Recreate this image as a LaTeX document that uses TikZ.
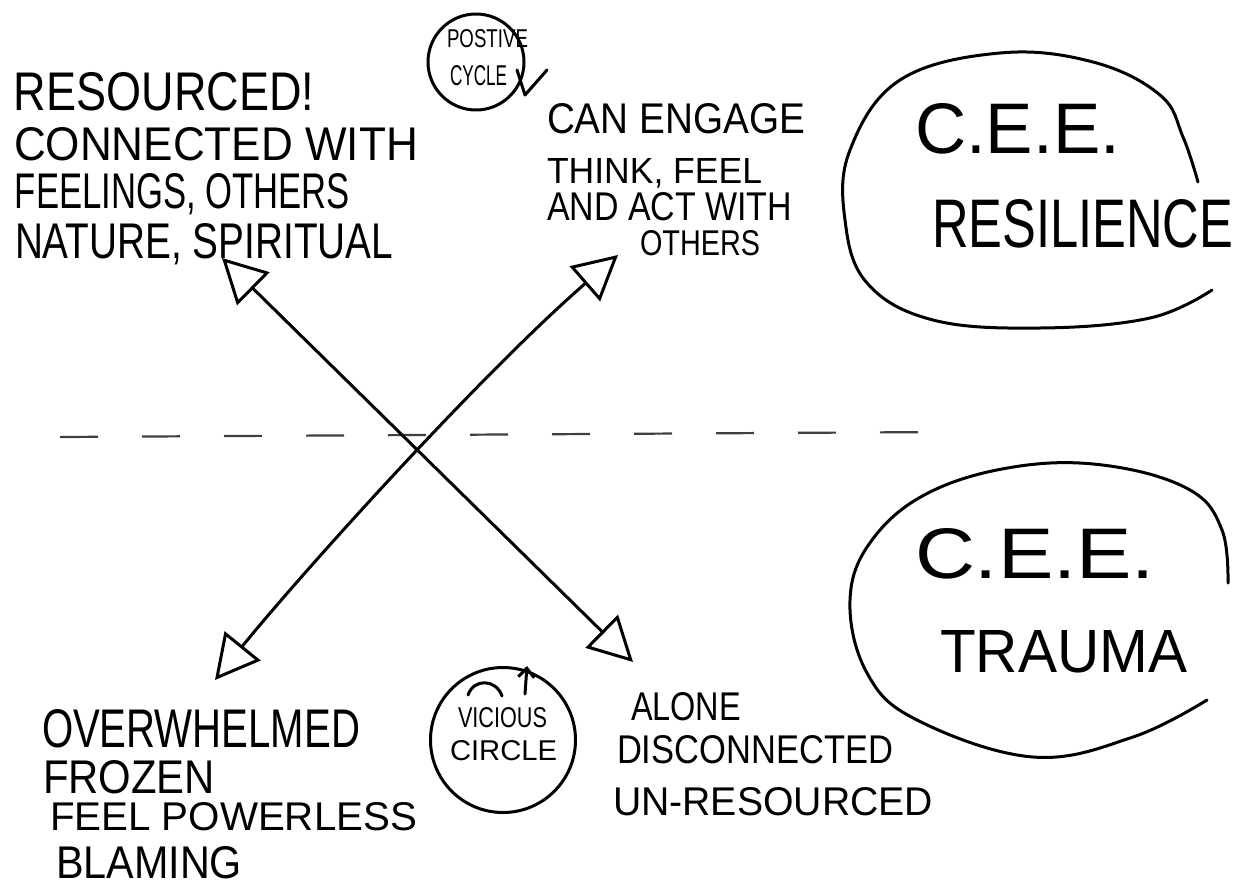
\documentclass[tikz,border=0pt]{standalone}
\usepackage{fontspec}
\setmainfont{Liberation Sans}
\usepackage{graphicx}
\usetikzlibrary{arrows.meta}
\newcommand{\hw}[3]{\resizebox{#1pt}{#2pt}{#3}}
\tikzset{
  txt/.style={anchor=base west, inner sep=0pt, outer sep=0pt},
  pen/.style={line width=3pt, line cap=round, line join=round},
  bigarrow/.style={pen, {Triangle[open,length=44pt,width=46pt]}-{Triangle[open,length=44pt,width=46pt]}},
  ring/.style={circle, draw, pen, inner sep=0pt},
  divider/.style={line width=2.2pt, black!75, dash pattern=on 38pt off 44pt}
}
\begin{document}
\begin{tikzpicture}[x=1pt,y=-1pt]
\useasboundingbox (0,0) rectangle (1246,886);
\fill[white] (0,0) rectangle (1246,886);

% top-left text
\node[txt] (r1) at (14,110) {\hw{300}{38}{RESOURCED!}};
\node[txt] (r2) at (14,160) {\hw{404}{33}{CONNECTED WITH}};
\node[txt] (r3) at (15,208) {\hw{335}{35}{FEELINGS, OTHERS}};
\node[txt] (r4) at (15,258) {\hw{378}{35}{NATURE, SPIRITUAL}};

% positive cycle
\node[ring, minimum size=96pt] (pos) at (476,62) {};
\node[txt] (p1) at (447,47) {\hw{81}{18}{POSTIVE}};
\node[txt] (p2) at (450,85) {\hw{57}{20}{CYCLE}};
\coordinate (ck1) at (517,70); \coordinate (ck2) at (525,95); \coordinate (ck3) at (547,70);
\draw[pen] (ck1) -- (ck2) -- (ck3);

% top-right text
\node[txt] (e1) at (547,133) {\hw{258}{30}{CAN ENGAGE}};
\node[txt] (e2) at (547,183) {\hw{215}{25}{THINK, FEEL}};
\node[txt] (e3) at (547,220) {\hw{245}{28}{AND ACT WITH}};
\node[txt] (e4) at (640,255) {\hw{120}{25}{OTHERS}};

% resilience blob
\draw[pen] plot[smooth, tension=0.65] coordinates {(1198,182) (1183,137) (1160,95) (1093,62) (1000,53) (900,80) (850,150) (845,220) (867,283) (933,320) (1040,328) (1150,318) (1212,290)};
\node[txt] (c1) at (915,153) {\hw{205}{50}{C.E.E.}};
\node[txt] (c2) at (932,247) {\hw{301}{48}{RESILIENCE}};

% trauma blob
\draw[pen] plot[smooth, tension=0.65] coordinates {(1228,583) (1222,530) (1190,490) (1110,466) (1020,466) (930,492) (872,540) (850,600) (867,673) (917,720) (1033,757) (1133,737) (1207,700)};
\node[txt] (t1) at (915,578) {\hw{240}{50}{C.E.E.}};
\node[txt] (t2) at (940,672) {\hw{247}{42}{TRAUMA}};

% dashed divider
\coordinate (dl) at (60,437); \coordinate (dr) at (945,432);
\draw[divider] (dl) -- (dr);

% crossing arrows
\coordinate (tl) at (222,258); \coordinate (br) at (633,662);
\coordinate (bl) at (215,680); \coordinate (tr) at (618,255);
\draw[bigarrow] (br) -- (tl);
\draw[bigarrow] (bl) .. controls (300,575) and (480,375) .. (tr);

% bottom-left text
\node[txt] (o1) at (42,747) {\hw{318}{38}{OVERWHELMED}};
\node[txt] (o2) at (43,793) {\hw{172}{33}{FROZEN}};
\node[txt] (o3) at (50,830) {\hw{367}{28}{FEEL POWERLESS}};
\node[txt] (o4) at (56,878) {\hw{186}{32}{BLAMING}};

% vicious circle
\node[ring, minimum size=145pt] (vic) at (503,740) {};
\node[txt] (v1) at (458,727) {\hw{89}{20}{VICIOUS}};
\node[txt] (v2) at (450,760) {\hw{107}{20}{CIRCLE}};
\coordinate (va) at (468,695); \coordinate (vb) at (502,696);
\draw[pen] (va) .. controls (474,678) and (496,679) .. (vb);
\coordinate (vs) at (525,694); \coordinate (ve) at (527,666);
\draw[pen, -{Straight Barb[length=9pt,width=16pt]}] (vs) -- (ve);

% bottom-right text
\node[txt] (a1) at (631,720) {\hw{110}{28}{ALONE}};
\node[txt] (a2) at (617,763) {\hw{276}{28}{DISCONNECTED}};
\node[txt] (a3) at (613,815) {\hw{320}{28}{UN-RESOURCED}};
\end{tikzpicture}
\end{document}
